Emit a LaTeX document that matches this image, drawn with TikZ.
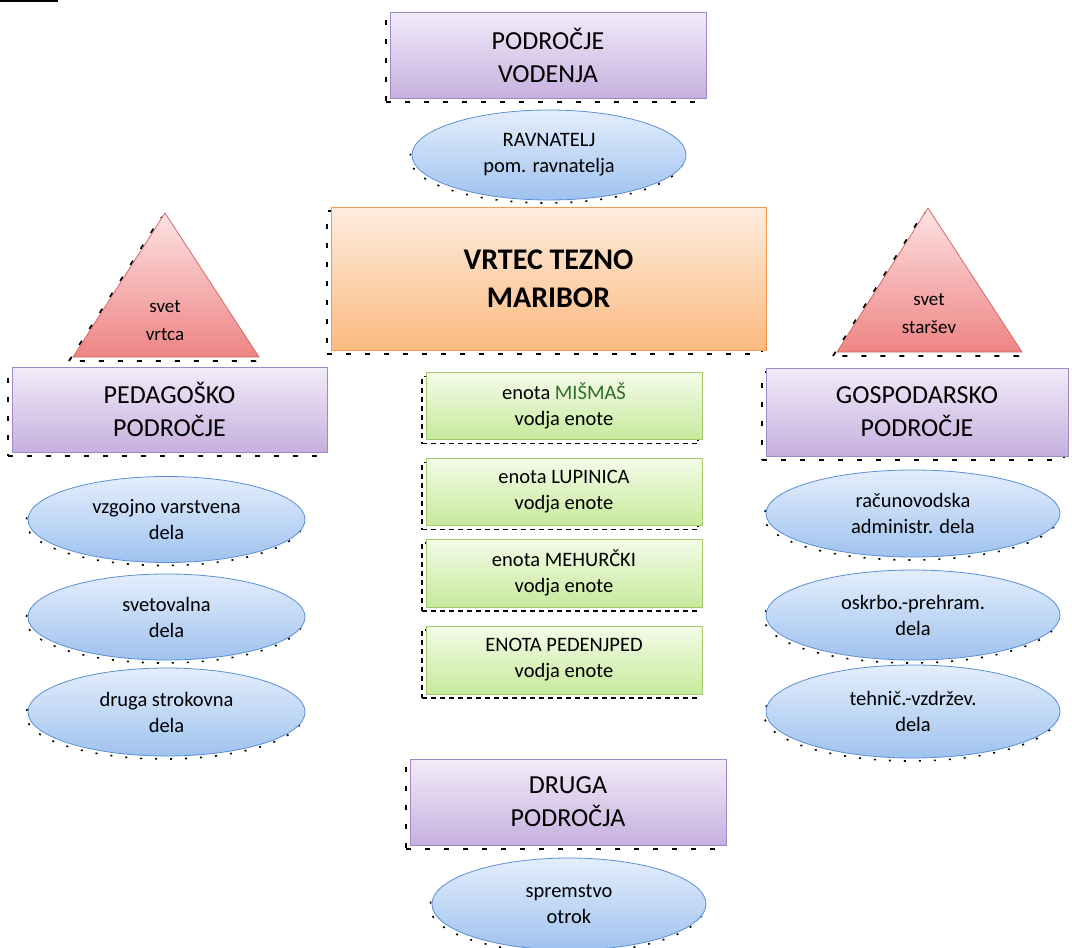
\documentclass[tikz,border=0pt]{standalone}
\usepackage{fontspec}
\setmainfont{Carlito}
\usetikzlibrary{shapes.geometric,shadows}

\definecolor{areaLine}{HTML}{A08AC6}
\definecolor{areaTop}{HTML}{F2EBF9}
\definecolor{areaBottom}{HTML}{C6B0DE}
\definecolor{coreLine}{HTML}{F59A4E}
\definecolor{coreTop}{HTML}{FDECDE}
\definecolor{coreBottom}{HTML}{FBBA80}
\definecolor{unitLine}{HTML}{A6C96E}
\definecolor{unitTop}{HTML}{F4FBE8}
\definecolor{unitBottom}{HTML}{C6EA9C}
\definecolor{workLine}{HTML}{5B8FD4}
\definecolor{workTop}{HTML}{E4EEFC}
\definecolor{workBottom}{HTML}{9FC2EF}
\definecolor{boardLine}{HTML}{D46A6A}
\definecolor{boardTop}{HTML}{FDE2E2}
\definecolor{boardBottom}{HTML}{EE8484}
\definecolor{unitName}{HTML}{2F6B2F}

\begin{document}
\begin{tikzpicture}[x=1pt,y=-1pt,
    boxshadow/.style={general shadow={shadow xshift=-4pt,shadow yshift=-4pt,draw=black,fill=none,line width=1.8pt,dash pattern=on 5pt off 14pt}},
    unitshadow/.style={general shadow={shadow xshift=-4pt,shadow yshift=-4pt,draw=black,fill=none,line width=1.6pt,dash pattern=on 5pt off 4pt}},
    workshadow/.style={general shadow={shadow xshift=-2pt,shadow yshift=-3pt,draw=black,fill=none,line width=1.6pt,dash pattern=on 2pt off 13pt}},
    area/.style={rectangle,draw=areaLine,thick,top color=areaTop,bottom color=areaBottom,minimum width=316pt,minimum height=86pt,inner sep=0pt,align=center,font=\fontsize{26}{33}\selectfont,boxshadow},
    core/.style={rectangle,draw=coreLine,thick,top color=coreTop,bottom color=coreBottom,minimum width=435pt,minimum height=143pt,inner sep=0pt,align=center,font=\bfseries\fontsize{30}{38}\selectfont,boxshadow},
    unit/.style={rectangle,draw=unitLine,thick,top color=unitTop,bottom color=unitBottom,minimum width=276pt,minimum height=67pt,inner sep=0pt,align=center,font=\fontsize{20.5}{26}\selectfont,unitshadow},
    work/.style={ellipse,draw=workLine,thick,top color=workTop,bottom color=workBottom,minimum width=277pt,minimum height=86pt,inner sep=0pt,align=center,font=\fontsize{20.5}{26}\selectfont,workshadow},
    board/.style={draw=boardLine,thick,top color=boardTop,bottom color=boardBottom,line join=miter,boxshadow},
    boardtext/.style={align=center,font=\fontsize{19}{28}\selectfont}
    ]

  \fill[white] (0,0) rectangle (1072,948);
  \useasboundingbox (0,0) rectangle (1072,948);
  \draw[line width=2.5pt] (0,1) -- (58,1);

  % vodenje
  \node(vodenje) [area] at (548,55) {PODROČJE\\VODENJA};
  \node(ravnatelj) [work,minimum width=274pt,minimum height=90pt] at (549,155) {RAVNATELJ\\pom. ravnatelja};

  \node(vrtec) [core] at (548.5,278.5) {VRTEC TEZNO\\MARIBOR};

  % sveta
  \draw[board] (73,357) -- (165,213) -- (259,357) -- cycle;
  \node(svetVrtca) [boardtext] at (165,321) {svet\\vrtca};
  \draw[board] (837,352) -- (928,208) -- (1022,352) -- cycle;
  \node(svetStarsev) [boardtext] at (929,314) {svet\\staršev};

  % pedagosko
  \node(pedagosko) [area,minimum width=315pt,minimum height=85pt] at (169.5,409.5) {PEDAGOŠKO\\PODROČJE};
  \node(vzgojno) [work] at (166.5,519.5) {vzgojno varstvena\\dela};
  \node(svetovalna) [work] at (166.5,617) {svetovalna\\dela};
  \node(strokovna) [work,minimum height=88pt] at (166.5,712) {druga strokovna\\dela};

  % enote
  \node(enotaMismas) [unit] at (564,406) {enota \textcolor{unitName}{MIŠMAŠ}\\vodja enote};
  \node(enotaLupinica) [unit] at (564,492) {enota LUPINICA\\vodja enote};
  \node(enotaMehurcki) [unit,minimum height=68pt] at (564,573) {enota MEHURČKI\\vodja enote};
  \node(enotaPedenjped) [unit,minimum height=68pt] at (564,660) {ENOTA PEDENJPED\\vodja enote};

  % gospodarsko
  \node(gospodarsko) [area,minimum width=302pt,minimum height=88pt] at (917,412) {GOSPODARSKO\\PODROČJE};
  \node(racunovodska) [work,minimum width=294pt,minimum height=87pt] at (913,513.5) {računovodska\\administr. dela};
  \node(oskrbo) [work,minimum width=294pt,minimum height=90pt] at (913,615) {oskrbo.-prehram.\\dela};
  \node(tehnic) [work,minimum width=294pt,minimum height=93pt] at (913,711.5) {tehnič.-vzdržev.\\dela};

  % druga
  \node(druga) [area] at (568,802) {DRUGA\\PODROČJA};
  \node(spremstvo) [work,minimum width=274pt,minimum height=92pt] at (569,904) {spremstvo\\otrok};

\end{tikzpicture}
\end{document}
